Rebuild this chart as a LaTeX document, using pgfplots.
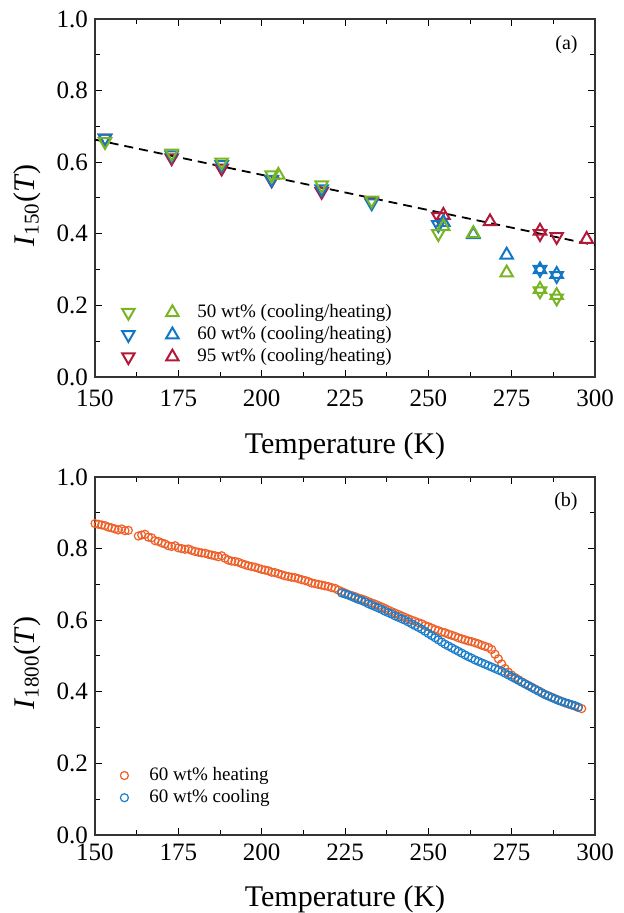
\documentclass[border=0pt]{standalone}
\usepackage{fontspec}
\setmainfont{Liberation Serif}
\usepackage{pgfplots}
\pgfplotsset{compat=1.18}

\definecolor{cfifty}{RGB}{120,180,36}
\definecolor{csixty}{RGB}{18,120,198}
\definecolor{cninety}{RGB}{178,24,56}
\definecolor{cheat}{RGB}{238,96,40}
\definecolor{ccool}{RGB}{26,126,202}

\pgfplotsset{
  panel/.style={
    scale only axis, width=250pt, height=179pt,
    xmin=150, xmax=300, ymin=0, ymax=1,
    xtick={150,175,200,225,250,275,300},
    ytick={0,0.2,0.4,0.6,0.8,1},
    minor x tick num=1, minor y tick num=1,
    tick align=inside,
    major tick length=3.5pt, minor tick length=2.6pt,
    axis line style={line width=0.6pt, black!80},
    every tick/.style={black, line width=0.5pt},
    tick label style={font=\fontsize{12.5}{14}\selectfont},
    /pgf/number format/assume math mode=true,
    yticklabel style={/pgf/number format/.cd, fixed, fixed zerofill, precision=1},
    xlabel={Temperature (K)},
    xlabel style={font=\fontsize{15}{17}\selectfont, anchor=base},
    ylabel style={font=\fontsize{15}{18}\selectfont, at={(axis description cs:-0.136,0.48)}, anchor=center},
    legend cell align=left,
    legend style={draw=none, fill=none, inner sep=0pt, font=\fontsize{9.5}{11.5}\selectfont, row sep=-1pt},
  },
  tri/.style={only marks, mark=triangle, mark size=3.6pt, line width=1pt, mark options={solid}},
  tridown/.style={tri, mark options={solid, rotate=180}},
  circ/.style={only marks, mark=o, mark size=2pt, line width=0.6pt},
}

\begin{document}
\begin{tikzpicture}
\useasboundingbox (-47.5pt,-39pt) rectangle (264.5pt,417.5pt);

% (a)
\begin{axis}[panel, at={(0pt,229pt)}, anchor=south west,
  xticklabel style={yshift=-3pt},
  xlabel style={at={(axis description cs:0.5,-0.214)}},
  ylabel={\textit{I}\textsubscript{150}(\textit{T})},
  legend style={at={(rel axis cs:0.05,0.215)}, anchor=north west},
]
\addplot[black, dashed, line width=0.9pt, dash pattern=on 4.5pt off 3pt, forget plot]
  coordinates {(150,0.663) (300,0.368)};

\addplot[cninety, tridown, forget plot] coordinates {
  (153,0.667) (173,0.612) (188,0.583) (203,0.550) (218,0.518)
  (233,0.490) (253,0.448) (283.5,0.400) (288.5,0.392)};
\addplot[cninety, tri, forget plot] coordinates {
  (254.5,0.452) (268.5,0.434) (283.5,0.408) (297.5,0.385)};

\addplot[csixty, tridown, forget plot] coordinates {
  (153,0.667) (173,0.620) (188,0.593) (203,0.552) (218,0.525)
  (233,0.486) (253,0.425) (283.5,0.300) (288.5,0.283)};
\addplot[csixty, tri, forget plot] coordinates {
  (254.5,0.432) (263.5,0.398) (273.5,0.341) (283.5,0.300) (288.5,0.287)};

\addplot[cfifty, tridown, forget plot] coordinates {
  (153,0.657) (173,0.625) (188,0.600) (203,0.564) (218,0.536)
  (233,0.494) (253,0.400) (283.5,0.240) (288.5,0.220)};
\addplot[cfifty, tri, forget plot] coordinates {
  (205,0.564) (254.5,0.420) (263.5,0.401) (273.5,0.291) (283.5,0.245) (288.5,0.228)};

\addlegendimage{legend image code/.code={
  \draw[cfifty, line width=1pt, only marks, mark=triangle, mark size=3.6pt, mark options={rotate=180}] plot coordinates {(0pt,0pt)};
  \draw[cfifty, line width=1pt, only marks, mark=triangle, mark size=3.6pt] plot coordinates {(22pt,0pt)};
  \path[draw=none, fill=none] (-4pt,-4pt) rectangle (32.5pt,4pt);}}
\addlegendentry{50 wt\% (cooling/heating)}
\addlegendimage{legend image code/.code={
  \draw[csixty, line width=1pt, only marks, mark=triangle, mark size=3.6pt, mark options={rotate=180}] plot coordinates {(0pt,0pt)};
  \draw[csixty, line width=1pt, only marks, mark=triangle, mark size=3.6pt] plot coordinates {(22pt,0pt)};
  \path[draw=none, fill=none] (-4pt,-4pt) rectangle (32.5pt,4pt);}}
\addlegendentry{60 wt\% (cooling/heating)}
\addlegendimage{legend image code/.code={
  \draw[cninety, line width=1pt, only marks, mark=triangle, mark size=3.6pt, mark options={rotate=180}] plot coordinates {(0pt,0pt)};
  \draw[cninety, line width=1pt, only marks, mark=triangle, mark size=3.6pt] plot coordinates {(22pt,0pt)};
  \path[draw=none, fill=none] (-4pt,-4pt) rectangle (32.5pt,4pt);}}
\addlegendentry{95 wt\% (cooling/heating)}

\node[anchor=north east, inner sep=0pt, font=\fontsize{10}{12}\selectfont] at (rel axis cs:0.966,0.955) {(a)};
\end{axis}

% (b)
\begin{axis}[panel, at={(0pt,0pt)}, anchor=south west,
  xticklabel style={yshift=-1pt},
  xlabel style={at={(axis description cs:0.5,-0.201)}},
  ylabel={\textit{I}\textsubscript{1800}(\textit{T})},
  legend style={at={(rel axis cs:0.042,0.201)}, anchor=north west},
]
\addplot[cheat, circ, legend image code/.code={
  \draw[cheat, line width=0.6pt, only marks, mark=o, mark size=2pt] plot coordinates {(0pt,0pt)};
  \path[draw=none, fill=none] (-4pt,-4pt) rectangle (10.5pt,4pt);}] coordinates {
  (150,0.870) (151,0.868) (152,0.866) (153,0.864) (154,0.860) (155,0.858)
  (156,0.855) (157,0.852) (158,0.855) (159,0.850) (160,0.851)
  (163,0.835) (164,0.838) (165,0.840) (166,0.832) (167,0.830) (168,0.822)
  (169,0.820) (170,0.816) (171,0.813) (172,0.808) (173,0.806) (174,0.808)
  (175,0.802) (176,0.800) (177,0.798) (178,0.799) (179,0.795) (180,0.792)
  (181,0.790) (182,0.788) (183,0.787) (184,0.784) (185,0.782) (186,0.780)
  (187,0.777) (188,0.780) (189,0.773) (190,0.768) (191,0.765) (192,0.764)
  (193,0.762) (194,0.758) (195,0.755) (196,0.752) (197,0.750) (198,0.748)
  (199,0.745) (200,0.742) (201,0.740) (202,0.738) (203,0.734) (204,0.733)
  (205,0.730) (206,0.727) (207,0.724) (208,0.722) (209,0.720) (210,0.719)
  (211,0.716) (212,0.713) (213,0.711) (214,0.708) (215,0.704) (216,0.702)
  (217,0.700) (218,0.698) (219,0.696) (220,0.694) (221,0.691) (222,0.689)
  (223,0.684) (224,0.680) (225,0.676) (226,0.672) (227,0.669) (228,0.666)
  (229,0.662) (230,0.659) (231,0.656) (232,0.652) (233,0.648) (234,0.645)
  (235,0.641) (236,0.637) (237,0.633) (238,0.628) (239,0.624) (240,0.620)
  (241,0.616) (242,0.612) (243,0.608) (244,0.604) (245,0.600) (246,0.597)
  (247,0.593) (248,0.590) (249,0.585) (250,0.582) (251,0.578) (252,0.574)
  (253,0.571) (254,0.567) (255,0.565) (256,0.561) (257,0.558) (258,0.555)
  (259,0.551) (260,0.548) (261,0.545) (262,0.542) (263,0.540) (264,0.537)
  (265,0.534) (266,0.530) (267,0.527) (268,0.524) (269,0.518) (270,0.505)
  (271,0.492) (272,0.478) (273,0.465) (274,0.455) (275,0.447) (276,0.440)
  (277,0.434) (278,0.428) (279,0.423) (280,0.418) (281,0.413) (282,0.408)
  (283,0.403) (284,0.398) (285,0.393) (286,0.389) (287,0.385) (288,0.381)
  (289,0.377) (290,0.373) (291,0.369) (292,0.366) (293,0.363) (294,0.360)
  (295,0.356) (296,0.353)};
\addlegendentry{60 wt\% heating}

\addplot[ccool, circ, legend image code/.code={
  \draw[ccool, line width=0.6pt, only marks, mark=o, mark size=2pt] plot coordinates {(0pt,0pt)};
  \path[draw=none, fill=none] (-4pt,-4pt) rectangle (10.5pt,4pt);}] coordinates {
  (224,0.676) (225,0.673) (226,0.670) (227,0.666) (228,0.662) (229,0.658)
  (230,0.655) (231,0.651) (232,0.646) (233,0.642) (234,0.638) (235,0.634)
  (236,0.630) (237,0.625) (238,0.621) (239,0.617) (240,0.612) (241,0.608)
  (242,0.604) (243,0.600) (244,0.595) (245,0.590) (246,0.585) (247,0.580)
  (248,0.575) (249,0.569) (250,0.563) (251,0.557) (252,0.551) (253,0.545)
  (254,0.539) (255,0.533) (256,0.528) (257,0.523) (258,0.518) (259,0.513)
  (260,0.508) (261,0.503) (262,0.498) (263,0.494) (264,0.489) (265,0.485)
  (266,0.481) (267,0.477) (268,0.473) (269,0.469) (270,0.465) (271,0.461)
  (272,0.457) (273,0.452) (274,0.447) (275,0.442) (276,0.437) (277,0.432)
  (278,0.427) (279,0.422) (280,0.417) (281,0.412) (282,0.407) (283,0.402)
  (284,0.397) (285,0.392) (286,0.388) (287,0.384) (288,0.380) (289,0.376)
  (290,0.373) (291,0.370) (292,0.367) (293,0.364) (294,0.361) (295,0.357)};
\addlegendentry{60 wt\% cooling}

\node[anchor=north east, inner sep=0pt, font=\fontsize{10}{12}\selectfont] at (rel axis cs:0.966,0.958) {(b)};
\end{axis}
\end{tikzpicture}
\end{document}
